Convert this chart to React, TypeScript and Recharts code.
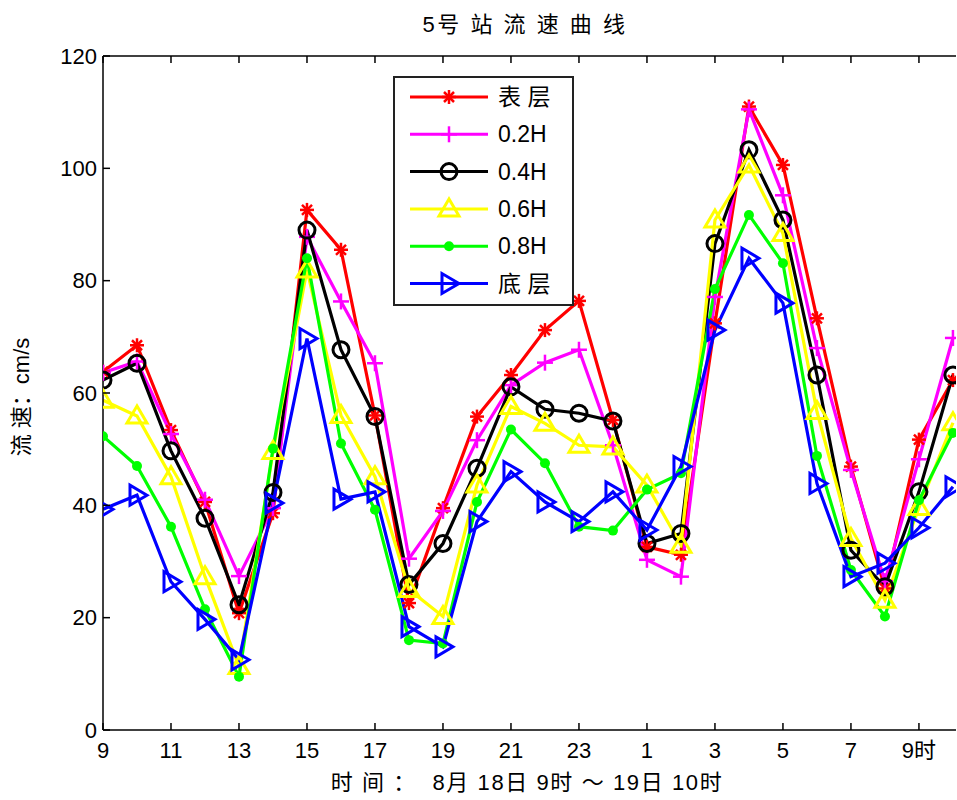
import React from 'react';
import { LineChart, Line, XAxis, YAxis, Legend } from 'recharts';

// hours 9 (Aug 18) .. 34 (= 10h Aug 19)
const hours = [9, 10, 11, 12, 13, 14, 15, 16, 17, 18, 19, 20, 21, 22, 23, 24, 25, 26, 27, 28, 29, 30, 31, 32, 33, 34];

const surface = [63.8, 68.5, 53.4, 40.6, 20.8, 38.6, 92.6, 85.5, 56.0, 22.6, 39.5, 55.8, 63.2, 71.2, 76.4, 55.2, 32.6, 31.2, 72.4, 111.0, 100.6, 73.3, 46.9, 25.2, 51.7, 62.3];
const depth02 = [63.6, 65.6, 52.7, 41.0, 27.4, 39.5, 87.8, 76.3, 65.3, 30.5, 39.0, 51.6, 61.4, 65.4, 67.7, 50.7, 30.3, 27.3, 77.1, 110.5, 95.2, 68.0, 46.3, 26.5, 48.2, 69.8];
const depth04 = [62.3, 65.3, 49.7, 37.7, 22.3, 42.3, 89.0, 67.7, 55.8, 25.9, 33.2, 46.6, 61.1, 57.1, 56.4, 55.0, 33.2, 35.0, 86.6, 103.3, 90.8, 63.2, 32.0, 25.5, 42.4, 63.2];
const depth06 = [58.7, 55.9, 45.1, 27.3, 11.3, 49.6, 81.9, 56.0, 45.1, 25.0, 20.2, 43.6, 57.6, 54.6, 50.7, 50.4, 43.6, 32.9, 90.8, 100.6, 88.4, 56.7, 34.1, 23.1, 39.6, 54.7];
const depth08 = [52.3, 47.0, 36.2, 21.5, 9.5, 50.1, 84.0, 51.0, 39.2, 16.0, 15.4, 40.6, 53.5, 47.5, 36.2, 35.5, 42.8, 45.7, 78.5, 91.7, 83.1, 48.8, 28.5, 20.2, 40.9, 52.9];
const bottom = [39.3, 41.8, 26.4, 19.7, 12.5, 40.4, 69.7, 41.1, 42.4, 18.4, 14.8, 37.1, 46.0, 40.6, 37.1, 42.4, 35.6, 46.9, 71.2, 84.0, 76.0, 43.9, 27.3, 29.7, 36.0, 43.3];

const seriesNames = ['表 层', '0.2H', '0.4H', '0.6H', '0.8H', '底 层'];
const seriesColors = ['#ff0000', '#ff00ff', '#000000', '#ffff00', '#00ff00', '#0000ff'];
const seriesMarkers = ['star', 'plus', 'circle', 'triUp', 'dot', 'triRight'];
const seriesValues = [surface, depth02, depth04, depth06, depth08, bottom];

const xTicks = [9, 11, 13, 15, 17, 19, 21, 23, 25, 27, 29, 31, 33];
const yTicks = [0, 20, 40, 60, 80, 100, 120];

const FONT = '"Liberation Sans", Arial, "Noto Sans CJK SC", sans-serif';

const data = hours.map((h, i) => {
  const row: any = { h };
  seriesValues.forEach((vals, k) => { row['s' + k] = vals[i]; });
  return row;
});

const hourLabel = (h: number) => {
  if (h === 33) return '9时';
  return String(h > 24 ? h - 24 : h);
};

const Marker = ({ shape, cx, cy, color }: any) => {
  if (cx == null || cy == null) return null;
  switch (shape) {
    case 'star':
      return (
        <g stroke={color} strokeWidth={2.5}>
          <line x1={cx - 7} y1={cy} x2={cx + 7} y2={cy} />
          <line x1={cx} y1={cy - 7} x2={cx} y2={cy + 7} />
          <line x1={cx - 5} y1={cy - 5} x2={cx + 5} y2={cy + 5} />
          <line x1={cx - 5} y1={cy + 5} x2={cx + 5} y2={cy - 5} />
        </g>
      );
    case 'plus':
      return (
        <g stroke={color} strokeWidth={2.5}>
          <line x1={cx - 8} y1={cy} x2={cx + 8} y2={cy} />
          <line x1={cx} y1={cy - 8} x2={cx} y2={cy + 8} />
        </g>
      );
    case 'circle':
      return <circle cx={cx} cy={cy} r={8} fill="none" stroke={color} strokeWidth={3} />;
    case 'triUp':
      return <polygon points={`${cx},${cy - 10} ${cx - 10},${cy + 7} ${cx + 10},${cy + 7}`} fill="none" stroke={color} strokeWidth={3} />;
    case 'dot':
      return <circle cx={cx} cy={cy} r={5} fill={color} stroke="none" />;
    case 'triRight':
      return <polygon points={`${cx + 10},${cy} ${cx - 7},${cy - 10} ${cx - 7},${cy + 10}`} fill="none" stroke={color} strokeWidth={3} />;
    default:
      return null;
  }
};

const BottomTick = ({ x, y, payload }: any) => (
  <g>
    <line x1={x} y1={y} x2={x} y2={y - 7} stroke="#000" strokeWidth={1.5} />
    <text x={x} y={y + 20} textAnchor="middle" dominantBaseline="central" fontSize={22} fontFamily={FONT} fill="#000">
      {hourLabel(payload.value)}
    </text>
  </g>
);

const TopTick = ({ x, y }: any) => (
  <line x1={x} y1={y} x2={x} y2={y + 7} stroke="#000" strokeWidth={1.5} />
);

const LeftTick = ({ x, y, payload }: any) => (
  <g>
    <line x1={x} y1={y} x2={x + 7} y2={y} stroke="#000" strokeWidth={1.5} />
    <text x={x - 6} y={y} textAnchor="end" dominantBaseline="central" fontSize={22} fontFamily={FONT} fill="#000">
      {payload.value}
    </text>
  </g>
);

const RightTick = ({ x, y }: any) => (
  <line x1={x} y1={y} x2={x - 7} y2={y} stroke="#000" strokeWidth={1.5} />
);

const LegendBox = () => (
  <div style={{ width: 181, height: 230, border: '2px solid #222', background: '#fff', boxSizing: 'border-box' }}>
    <svg width={177} height={226}>
      {seriesNames.map((name, i) => {
        const cy = 19 + i * 37.3;
        return (
          <g key={name}>
            <line x1={15} y1={cy} x2={93} y2={cy} stroke={seriesColors[i]} strokeWidth={3} />
            <Marker shape={seriesMarkers[i]} cx={54} cy={cy} color={seriesColors[i]} />
            <text x={103} y={cy} dominantBaseline="central" fontSize={23} fontFamily={FONT} fill="#000">
              {name}
            </text>
          </g>
        );
      })}
    </svg>
  </div>
);

const axisLine = { stroke: '#000', strokeWidth: 1.5 };

export default function App() {
  return (
    <div style={{ position: 'absolute', left: 0, top: 0, width: 957, height: 800, background: '#fff', fontFamily: FONT }}>
      <div style={{ position: 'absolute', left: 0, width: 1050, top: 12, textAlign: 'center', fontSize: 22, lineHeight: '26px', letterSpacing: 2.5 }}>
        5号 站 流 速 曲 线
      </div>
      <LineChart width={957} height={800} data={data} margin={{ top: 55, right: 0, left: 102, bottom: 69 }}>
        <XAxis
          xAxisId="b"
          dataKey="h"
          type="number"
          domain={[9, 34.09]}
          allowDataOverflow
          ticks={xTicks}
          interval={0}
          height={1}
          tickSize={0}
          tickMargin={0}
          tickLine={false}
          axisLine={axisLine}
          tick={<BottomTick />}
        />
        <XAxis
          xAxisId="t"
          orientation="top"
          dataKey="h"
          type="number"
          domain={[9, 34.09]}
          allowDataOverflow
          ticks={xTicks}
          interval={0}
          height={1}
          tickSize={0}
          tickMargin={0}
          tickLine={false}
          axisLine={axisLine}
          tick={<TopTick />}
        />
        <YAxis
          yAxisId="l"
          type="number"
          domain={[0, 120]}
          ticks={yTicks}
          interval={0}
          width={1}
          tickSize={0}
          tickMargin={0}
          tickLine={false}
          axisLine={axisLine}
          tick={<LeftTick />}
        />
        <YAxis
          yAxisId="r"
          orientation="right"
          type="number"
          domain={[0, 120]}
          ticks={yTicks}
          interval={0}
          width={1}
          tickSize={0}
          tickMargin={0}
          tickLine={false}
          axisLine={false}
          tick={<RightTick />}
        />
        <Legend
          layout="horizontal"
          verticalAlign="middle"
          align="center"
          wrapperStyle={{ left: 393, top: 76, width: 181, height: 230 }}
          content={() => <LegendBox />}
        />
        {seriesNames.map((name, k) => (
          <Line
            key={name}
            xAxisId="b"
            yAxisId="l"
            dataKey={'s' + k}
            name={name}
            type="linear"
            stroke={seriesColors[k]}
            strokeWidth={3.2}
            isAnimationActive={false}
            dot={(p: any) => <Marker key={p.index} shape={seriesMarkers[k]} cx={p.cx} cy={p.cy} color={seriesColors[k]} />}
            activeDot={false}
          />
        ))}
      </LineChart>
      <div style={{ position: 'absolute', left: 0, width: 1054, top: 770, textAlign: 'center', fontSize: 22, lineHeight: '26px', whiteSpace: 'pre', letterSpacing: 1.6 }}>
        时 间 ：  8月 18日 9时 ～ 19日 10时
      </div>
      <div
        style={{
          position: 'absolute',
          left: 22,
          top: 397,
          transform: 'translate(-50%, -50%) rotate(-90deg)',
          fontSize: 22,
          lineHeight: '26px',
          whiteSpace: 'nowrap',
        }}
      >
        流 速：cm/s
      </div>
    </div>
  );
}
